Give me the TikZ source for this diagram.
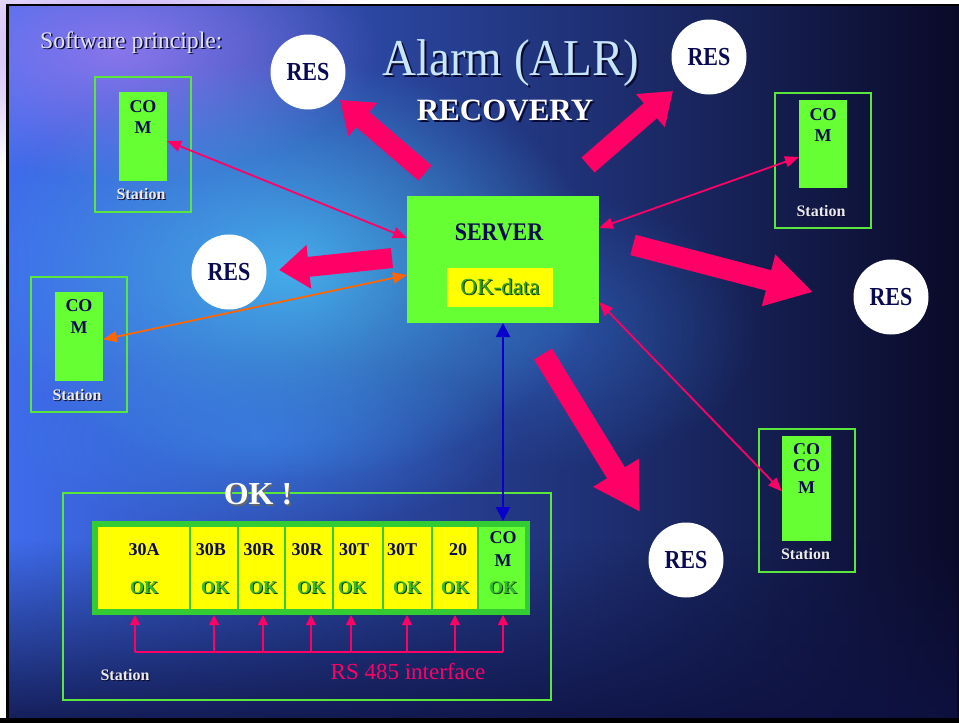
\documentclass[tikz,border=0pt]{standalone}
\usepackage{fontspec}
\setmainfont{Liberation Serif}
\usetikzlibrary{arrows.meta,fadings,calc,shadings}
\definecolor{bgleft}{HTML}{3F6CEC}
\definecolor{bgmid}{HTML}{2440A8}
\definecolor{bgright}{HTML}{0A0A28}
\definecolor{bgbottom}{HTML}{0E1242}
\definecolor{blobcyan}{HTML}{4AC4F8}
\definecolor{bloblav}{HTML}{A47CF2}
\definecolor{blobblue}{HTML}{3C8CF2}
\definecolor{pinkarrow}{HTML}{FF0066}
\definecolor{orangearrow}{HTML}{FF6600}
\definecolor{bluearrow}{HTML}{0A00CC}
\definecolor{comgreen}{HTML}{66FF33}
\definecolor{stgreen}{HTML}{5AE63C}
\definecolor{rackgreen}{HTML}{33CC33}
\definecolor{cellyellow}{HTML}{FFFF00}
\definecolor{navytext}{HTML}{0A0A50}
\definecolor{okgreen}{HTML}{33BB33}
\definecolor{titleblue}{HTML}{C8E6FA}
\definecolor{shadowdark}{HTML}{0A0A30}
\definecolor{okshade}{HTML}{0E3A0E}
\newcommand\shtext[4]{\makebox[0pt][l]{\kern#2\raisebox{-#3}{\textcolor{#1}{#4}}}#4}
\tikzfading[name=blob, inner color=transparent!0, outer color=transparent!100]
\tikzfading[name=fadebottom, top color=transparent!100, bottom color=transparent!0]
\begin{document}
\begin{tikzpicture}[x=1pt,y=-1pt,
  box/.style={anchor=north west, inner sep=0pt, outer sep=0pt},
  res/.style={circle, fill=white, minimum size=75pt, inner sep=0pt,
    font=\bfseries\fontsize{22}{22}\selectfont, text=navytext},
  fatarrow/.style={draw=pinkarrow, line width=20pt, -{Triangle[length=30pt,width=42pt]}},
  fatarrowlong/.style={draw=pinkarrow, line width=21pt, -{Triangle[length=46pt,width=50pt]}},
  stationbox/.style={box, draw=stgreen, line width=1.4pt},
  combox/.style={box, fill=comgreen},
  comtext/.style={font=\bfseries\fontsize{18}{18}\selectfont, text=navytext, inner sep=0pt},
  stationtext/.style={font=\bfseries\fontsize{16}{16}\selectfont, text=white!92!black, inner sep=0pt},
  thinpink/.style={draw=pinkarrow, line width=1.8pt, {Triangle[length=14pt,width=11pt]}-{Triangle[length=14pt,width=11pt]}},
  thinorange/.style={draw=orangearrow, line width=1.8pt, {Triangle[length=14pt,width=11pt]}-{Triangle[length=14pt,width=11pt]}},
  thinblue/.style={draw=bluearrow, line width=2.2pt, {Triangle[length=14pt,width=14pt]}-{Triangle[length=14pt,width=14pt]}},
  busline/.style={draw=pinkarrow, line width=1.5pt},
  busarrow/.style={draw=pinkarrow, line width=1.5pt, -{Triangle[length=10pt,width=10pt]}},
  cell/.style={box, fill=cellyellow},
  modtext/.style={font=\bfseries\fontsize{18}{18}\selectfont, text=navytext, inner sep=0pt},
  oktext/.style={font=\bfseries\fontsize{18}{18}\selectfont, text=okgreen, inner sep=0pt}
]
\useasboundingbox (0,0) rectangle (959,723);
% ---------- background ----------
\fill[white] (0,0) rectangle (959,723);
\shade[left color=bgleft, middle color=bgmid, right color=bgright] (8,6) rectangle (959,718);
\fill[bloblav, opacity=0.75, path fading=blob] (120,50) ellipse (260 and 130);
\fill[blobcyan, opacity=0.8, path fading=blob] (290,270) ellipse (310 and 210);
\fill[blobblue, opacity=0.55, path fading=blob] (260,440) ellipse (260 and 90);
\fill[blobblue, opacity=0.35, path fading=blob] (560,330) ellipse (200 and 140);
\fill[bgbottom, opacity=0.85, path fading=fadebottom] (8,540) rectangle (959,718);
\draw[black, line width=2.5pt] (960,5) -- (7.5,5) -- (7.5,719);
\fill[black] (0,718) rectangle (959,723);
% ---------- titles ----------
\node[anchor=base, inner sep=0pt, text=titleblue, font=\fontsize{47}{47}\selectfont] (title) at (511,75) {\shtext{shadowdark}{2pt}{2pt}{\scalebox{1}[1.1]{Alarm (ALR)}}};
\node[anchor=base, inner sep=0pt, text=white, font=\bfseries\fontsize{31}{31}\selectfont] (rec) at (505,120) {\shtext{shadowdark}{2pt}{2pt}{RECOVERY}};
\node[anchor=base west, inner sep=0pt, text=white!88!blue, font=\fontsize{23.7}{23.7}\selectfont] (sw) at (40,48) {\shtext{shadowdark}{1.5pt}{1.5pt}{Software principle:}};
% ---------- fat arrows ----------
\coordinate (f1a) at (425,173); \coordinate (f1b) at (340,100);
\coordinate (f2a) at (588,165); \coordinate (f2b) at (673,91);
\coordinate (f3a) at (392,258); \coordinate (f3b) at (279,270);
\coordinate (f4a) at (633,245); \coordinate (f4b) at (813,292);
\coordinate (f5a) at (543,354); \coordinate (f5b) at (640,512);
\draw[fatarrow] (f1a) -- (f1b);
\draw[fatarrow] (f2a) -- (f2b);
\draw[fatarrow] (f3a) -- (f3b);
\draw[fatarrowlong] (f4a) -- (f4b);
\draw[fatarrowlong] (f5a) -- (f5b);
% ---------- RES circles ----------
\node[res] (res1) at (308,72) {\scalebox{1}[1.18]{RES}};
\node[res] (res2) at (709,57) {\scalebox{1}[1.18]{RES}};
\node[res] (res3) at (229,272) {\scalebox{1}[1.18]{RES}};
\node[res] (res4) at (891,297) {\scalebox{1}[1.18]{RES}};
\node[res] (res5) at (686,560) {\scalebox{1}[1.18]{RES}};
% ---------- server ----------
\node[box, fill=comgreen, minimum width=192pt, minimum height=127pt] (server) at (407,196) {};
\node[font=\bfseries\fontsize{22}{22}\selectfont, text=navytext, inner sep=0pt] (servertext) at (499,232) {\scalebox{1}[1.15]{SERVER}};
\node[box, fill=cellyellow, minimum width=106pt, minimum height=39pt] (okdata) at (447,268) {};
\node[font=\fontsize{23}{23}\selectfont, text=okgreen!85!black, inner sep=0pt] (okdatatext) at (okdata.center) {\shtext{okshade}{1pt}{1pt}{OK-data}};
% ---------- stations ----------
\node[stationbox, minimum width=96pt, minimum height=135pt] (st1) at (95,77) {};
\node[combox, minimum width=48pt, minimum height=89pt] (com1) at (119,92) {};
\node[comtext] (com1a) at (143,107) {CO};
\node[comtext] (com1b) at (143,128) {M};
\node[stationtext] (st1t) at (141,195) {\shtext{shadowdark}{1pt}{1pt}{Station}};

\node[stationbox, minimum width=96pt, minimum height=135pt] (st2) at (31,277) {};
\node[combox, minimum width=48pt, minimum height=89pt] (com2) at (55,292) {};
\node[comtext] (com2a) at (79,306) {CO};
\node[comtext] (com2b) at (79,328) {M};
\node[stationtext] (st2t) at (77,396) {\shtext{shadowdark}{1pt}{1pt}{Station}};

\node[stationbox, minimum width=96pt, minimum height=135pt] (st3) at (775,93) {};
\node[combox, minimum width=48pt, minimum height=88pt] (com3) at (799,100) {};
\node[comtext] (com3a) at (823,114.5) {CO};
\node[comtext] (com3b) at (823,136) {M};
\node[stationtext] (st3t) at (821,212) {\shtext{shadowdark}{1pt}{1pt}{Station}};

\node[stationbox, minimum width=96pt, minimum height=143pt] (st4) at (759,429) {};
\node[combox, minimum width=49pt, minimum height=105pt] (com4) at (782,436) {};
\begin{scope}
\clip (782,436) rectangle (831,453);
\node[comtext] (com4x) at (806.5,450) {CO};
\end{scope}
\node[comtext] (com4a) at (806.5,466) {CO};
\node[comtext] (com4b) at (806.5,488) {M};
\node[stationtext] (st4t) at (805.5,555) {\shtext{shadowdark}{1pt}{1pt}{Station}};
% ---------- bottom station ----------
\node[stationbox, minimum width=488pt, minimum height=207pt] (st5) at (63,493) {};
\node[font=\bfseries\fontsize{32}{32}\selectfont, text=white, inner sep=0pt] (okbang) at (258,495) {\shtext{black!60}{1.5pt}{2pt}{OK !}};
\node[box, fill=rackgreen, minimum width=438pt, minimum height=94pt] (rack) at (92,521) {};
\node[cell, minimum width=91pt, minimum height=82pt] (c1) at (98,527) {};
\node[cell, minimum width=46pt, minimum height=82pt] (c2) at (191,527) {};
\node[cell, minimum width=45pt, minimum height=82pt] (c3) at (239,527) {};
\node[cell, minimum width=46pt, minimum height=82pt] (c4) at (286,527) {};
\node[cell, minimum width=48pt, minimum height=82pt] (c5) at (334,527) {};
\node[cell, minimum width=47pt, minimum height=82pt] (c6) at (384,527) {};
\node[cell, minimum width=44pt, minimum height=82pt] (c7) at (433,527) {};
\node[box, fill=comgreen, minimum width=46pt, minimum height=82pt] (c8) at (479,527) {};
\node[modtext] (l1) at (144,550) {30A};
\node[modtext] (l2) at (211,550) {30B};
\node[modtext] (l3) at (259,550) {30R};
\node[modtext] (l4) at (307,550) {30R};
\node[modtext] (l5) at (354,550) {30T};
\node[modtext] (l6) at (402,550) {30T};
\node[modtext] (l7) at (458,550) {20};
\node[modtext] (l8a) at (503,538) {CO};
\node[modtext] (l8b) at (503,561) {M};
\foreach \x [count=\i] in {144,215,263,311,352,407,455,503} {
  \node[oktext] (ok\i) at (\x,588) {\shtext{okshade}{1pt}{1pt}{OK}};
}
% RS 485 bus
\coordinate (b1) at (135,652);
\coordinate (b2) at (214,652);
\coordinate (b3) at (263,652);
\coordinate (b4) at (311,652);
\coordinate (b5) at (351,652);
\coordinate (b6) at (407,652);
\coordinate (b7) at (455,652);
\coordinate (b8) at (503,652);
\draw[busline] (b1) -- (b8);
\foreach \i in {1,...,8} { \draw[busarrow] (b\i) -- (b\i |- rack.south); }
\node[font=\fontsize{23}{23}\selectfont, text=pinkarrow, inner sep=0pt] (rs485) at (408,672) {RS 485 interface};
\node[stationtext] (st5t) at (125,676) {\shtext{shadowdark}{1pt}{1pt}{Station}};
% ---------- thin connectors ----------
\draw[thinpink] ([yshift=-4.5pt]com1.east) -- ([yshift=-42pt]server.north west);
\draw[thinorange] ([yshift=-3pt]com2.east) -- ([yshift=-79pt]server.north west);
\draw[thinpink] ([yshift=-32pt]server.north east) -- ([yshift=-13pt]com3.west);
\draw[thinpink] ([yshift=21pt]server.south east) -- ([yshift=-3pt]com4.west);
\draw[thinblue] (server.south) -- (server.south |- rack.north);
\end{tikzpicture}
\end{document}
